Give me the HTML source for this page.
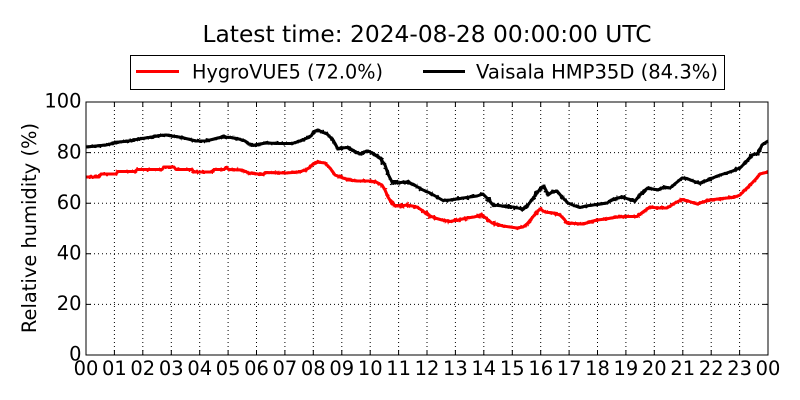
<!DOCTYPE html>
<html><head><meta charset="utf-8"><style>
html,body{margin:0;padding:0;background:#fff;}
svg{display:block;}
text{font-family:"DejaVu Sans","Liberation Sans",sans-serif;fill:#000;}
</style></head><body>
<svg width="800" height="400" viewBox="0 0 800 400" xmlns="http://www.w3.org/2000/svg">
<defs>
<filter id="jit" x="-5%" y="-20%" width="110%" height="140%">
<feTurbulence type="fractalNoise" baseFrequency="0.35" numOctaves="2" seed="3" result="n"/>
<feDisplacementMap in="SourceGraphic" in2="n" scale="3.5" xChannelSelector="R" yChannelSelector="G"/>
</filter>
<filter id="jit2" x="-5%" y="-20%" width="110%" height="140%">
<feTurbulence type="fractalNoise" baseFrequency="0.3" numOctaves="2" seed="7" result="n"/>
<feDisplacementMap in="SourceGraphic" in2="n" scale="6" xChannelSelector="R" yChannelSelector="G"/>
</filter>
<clipPath id="cOut"><rect x="86" y="102" width="294" height="253"/><rect x="545" y="102" width="223" height="253"/></clipPath>
<clipPath id="cMid"><rect x="380" y="102" width="165" height="253"/></clipPath>
</defs>
<rect width="800" height="400" fill="#fff"/>
<text x="427" y="42" font-size="23.3" text-anchor="middle" textLength="449" lengthAdjust="spacingAndGlyphs">Latest time: 2024-08-28 00:00:00 UTC</text>
<g stroke="#000" stroke-width="1" stroke-dasharray="1,3" fill="none">
<line x1="86" y1="304.4" x2="768" y2="304.4"/>
<line x1="86" y1="253.8" x2="768" y2="253.8"/>
<line x1="86" y1="203.2" x2="768" y2="203.2"/>
<line x1="86" y1="152.6" x2="768" y2="152.6"/>
<line x1="114.4" y1="102" x2="114.4" y2="355"/><line x1="142.8" y1="102" x2="142.8" y2="355"/><line x1="171.3" y1="102" x2="171.3" y2="355"/><line x1="199.7" y1="102" x2="199.7" y2="355"/><line x1="228.1" y1="102" x2="228.1" y2="355"/><line x1="256.5" y1="102" x2="256.5" y2="355"/><line x1="284.9" y1="102" x2="284.9" y2="355"/><line x1="313.3" y1="102" x2="313.3" y2="355"/><line x1="341.8" y1="102" x2="341.8" y2="355"/><line x1="370.2" y1="102" x2="370.2" y2="355"/><line x1="398.6" y1="102" x2="398.6" y2="355"/><line x1="427" y1="102" x2="427" y2="355"/><line x1="455.4" y1="102" x2="455.4" y2="355"/><line x1="483.8" y1="102" x2="483.8" y2="355"/><line x1="512.3" y1="102" x2="512.3" y2="355"/><line x1="540.7" y1="102" x2="540.7" y2="355"/><line x1="569.1" y1="102" x2="569.1" y2="355"/><line x1="597.5" y1="102" x2="597.5" y2="355"/><line x1="625.9" y1="102" x2="625.9" y2="355"/><line x1="654.3" y1="102" x2="654.3" y2="355"/><line x1="682.8" y1="102" x2="682.8" y2="355"/><line x1="711.2" y1="102" x2="711.2" y2="355"/><line x1="739.6" y1="102" x2="739.6" y2="355"/>
</g>
<g id="series">
<polyline id="red" fill="none" stroke="#ff0000" stroke-width="3" stroke-linejoin="round" points="86,177 99,177 101,174 116,174 118,171.5 135,171.5 137,169.5 162,169.5 164,167 174,167 176,169.5 192,169.5 194,172 212,172 214,169.5 224,169.5 226,167.5 229,169.5 242,170 249,173 263,174.5 266,172.5 286,173 299,172 305,170 309,168 313,164 317,162 325,163 330,168 335,175 343,178 350,180 357,181 370,181 376,182 382,185 385,190 388,197 391,202 395,206 401,206 407,205 412,206 417,207 423,211 428,215 435,218 442,220 450,221.5 458,220 467,218 474,217 482,215 487,219 492,223 503,226 510,227 517,228 523,227 527,224 532,218 536,213 540,209 545,212 553,213 560,215 564,219 567,223 575,223.5 583,224 590,222 597,220 606,219 617,217 627,216.5 637,216.5 643,212 650,207 658,208 667,208 675,203 682,199.5 688,201 697,204 703,202 710,200 718,199 727,198 735,197 740,195 745,190 750,185 755,180 760,174 768,172"/>
<polyline id="blk" fill="none" stroke="#000" stroke-width="3" stroke-linejoin="round" points="86,147 96,146 106,145 119,142 129,141 139,139 152,137 160,135.5 166,135 172,136 179,137 188,139 196,141 206,141 214,139 222,137 231,137.5 239,139 245,141 249,144 253,145.5 260,144 266,143 279,143.5 292,143.5 300,141 306,138.5 311,136 315,131 318,130 322,132 327,134 333,140 338,149 342,148 347,147.5 354,151 360,154 364,152 368,151 374,154 380,158 385,165 388,174 392,182 398,183 404,182 410,183 416,186 423,190 430,193 437,197 443,200.5 450,200 460,198.5 470,197 477,196 483,194 488,199 493,205 503,206 508,207 513,207 518,208 523,209.5 528,205 534,197 540,189 544,186 548,195 552,192 557,191 562,197 568,203 574,205.5 580,207.5 586,206 593,205 600,204 607,203 614,199 622,197 628,199 635,201 640,195 647,188.5 653,189 658,190 664,187 670,188 676,183 682,178 687,178.5 693,181 700,183.5 710,179 720,175 730,172 740,168 746,162 752,155 758,153.5 762,145 768,141"/>
</g>
<g clip-path="url(#cOut)"><g filter="url(#jit)">
<use href="#red"/><use href="#blk"/>
</g></g>
<g clip-path="url(#cMid)"><g filter="url(#jit2)">
<use href="#red"/><use href="#blk"/>
</g></g>
<g stroke="#000" stroke-width="1" fill="none">
<path d="M114.4,355v-5M142.8,355v-5M171.3,355v-5M199.7,355v-5M228.1,355v-5M256.5,355v-5M284.9,355v-5M313.3,355v-5M341.8,355v-5M370.2,355v-5M398.6,355v-5M427,355v-5M455.4,355v-5M483.8,355v-5M512.3,355v-5M540.7,355v-5M569.1,355v-5M597.5,355v-5M625.9,355v-5M654.3,355v-5M682.8,355v-5M711.2,355v-5M739.6,355v-5"/>
<path d="M114.4,102v5M142.8,102v5M171.3,102v5M199.7,102v5M228.1,102v5M256.5,102v5M284.9,102v5M313.3,102v5M341.8,102v5M370.2,102v5M398.6,102v5M427,102v5M455.4,102v5M483.8,102v5M512.3,102v5M540.7,102v5M569.1,102v5M597.5,102v5M625.9,102v5M654.3,102v5M682.8,102v5M711.2,102v5M739.6,102v5"/>
<path d="M86,304.4h5M86,253.8h5M86,203.2h5M86,152.6h5M768,304.4h-5M768,253.8h-5M768,203.2h-5M768,152.6h-5"/>
<rect x="86" y="102" width="682" height="253"/>
</g>
<g font-size="19.44" text-anchor="end">
<text x="81.5" y="360.7">0</text>
<text x="81.5" y="310.1">20</text>
<text x="81.5" y="259.5">40</text>
<text x="81.5" y="208.9">60</text>
<text x="81.5" y="158.3">80</text>
<text x="81.5" y="107.7">100</text>
</g>
<g font-size="19.44" text-anchor="middle">
<text x="86" y="375">00</text><text x="114.4" y="375">01</text><text x="142.8" y="375">02</text><text x="171.3" y="375">03</text><text x="199.7" y="375">04</text><text x="228.1" y="375">05</text><text x="256.5" y="375">06</text><text x="284.9" y="375">07</text><text x="313.3" y="375">08</text><text x="341.8" y="375">09</text><text x="370.2" y="375">10</text><text x="398.6" y="375">11</text><text x="427" y="375">12</text><text x="455.4" y="375">13</text><text x="483.8" y="375">14</text><text x="512.3" y="375">15</text><text x="540.7" y="375">16</text><text x="569.1" y="375">17</text><text x="597.5" y="375">18</text><text x="625.9" y="375">19</text><text x="654.3" y="375">20</text><text x="682.8" y="375">21</text><text x="711.2" y="375">22</text><text x="739.6" y="375">23</text><text x="768" y="375">00</text>
</g>
<text transform="translate(36,228) rotate(-90)" font-size="19.44" text-anchor="middle">Relative humidity (%)</text>
<rect x="130.5" y="55.5" width="594" height="34" fill="#fff" stroke="#000" stroke-width="1"/>
<line x1="136" y1="71.5" x2="179" y2="71.5" stroke="#ff0000" stroke-width="3"/>
<text x="192" y="78.3" font-size="19.44" textLength="191" lengthAdjust="spacingAndGlyphs">HygroVUE5 (72.0%)</text>
<line x1="423" y1="71.5" x2="465" y2="71.5" stroke="#000" stroke-width="3"/>
<text x="476" y="78.3" font-size="19.44" textLength="242" lengthAdjust="spacingAndGlyphs">Vaisala HMP35D (84.3%)</text>
</svg>
</body></html>
